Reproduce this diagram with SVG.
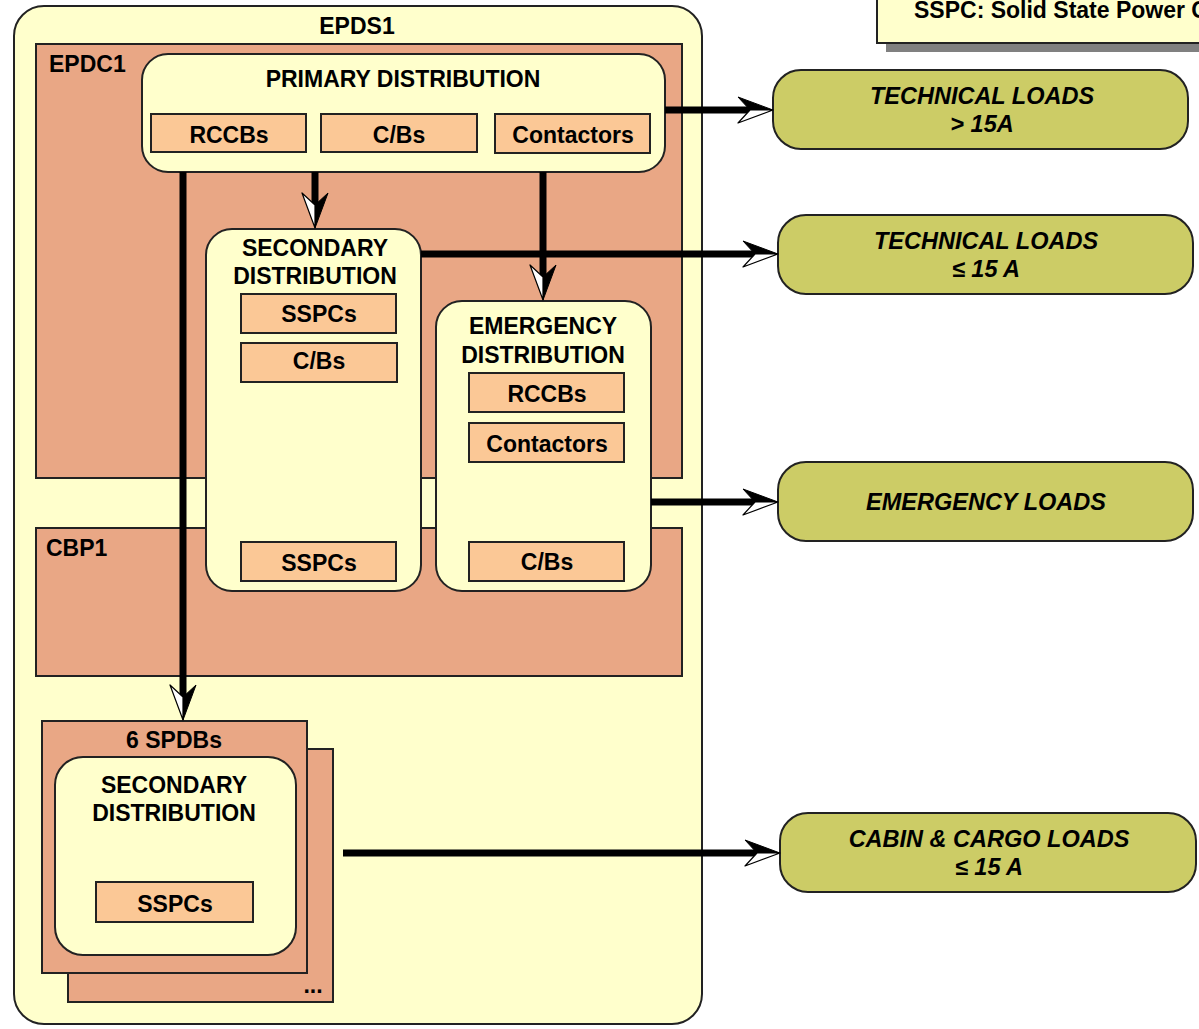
<svg xmlns="http://www.w3.org/2000/svg" xmlns:xlink="http://www.w3.org/1999/xlink" width="1199" height="1029" viewBox="0 0 1199 1029">
  <style>
    text { font-family: "Liberation Sans", Arial, sans-serif; font-weight: bold; fill: #000; }
    .t22 { font-size: 23px; text-anchor: middle; }
    .lbl { font-size: 23px; }
    .load { font-size: 23.5px; font-style: italic; text-anchor: middle; }
    .sys { fill: #FFFFCC; stroke: #222; stroke-width: 2; }
    .unit { fill: #E9A785; stroke: #222; stroke-width: 2; }
    .dist { fill: #FFFFCC; stroke: #222; stroke-width: 2; }
    .dev { fill: #FBC896; stroke: #222; stroke-width: 2; }
    .loadbox { fill: #CCCC66; stroke: #222; stroke-width: 2; }
    .wire { stroke: #000; stroke-width: 7; fill: none; }
  </style>
  <defs>
    <!-- half-black / half-white barbed arrowhead, tip at origin, pointing +x -->
    <g id="ahead">
      <path d="M0,0 L-35,-13 L-23,0 Z" fill="#000" stroke="#000" stroke-width="1" stroke-linejoin="round"/>
      <path d="M0,0 L-23,0 L-35,13 Z" fill="#fff" stroke="#000" stroke-width="1.2" stroke-linejoin="round"/>
    </g>
  </defs>

  <rect width="1199" height="1029" fill="#fff"/>

  <!-- legend -->
  <g id="legend">
    <rect x="886" y="-2" width="330" height="54" fill="#808080"/>
    <rect x="877" y="-10" width="330" height="53" fill="#FFFFCC" stroke="#222" stroke-width="2"/>
    <text class="lbl" x="914" y="18">SSPC: Solid State Power Controller</text>
  </g>

  <!-- power distribution system -->
  <g id="epds1">
    <rect class="sys" x="14" y="6" width="688" height="1018" rx="30"/>
    <text class="t22" x="357" y="34">EPDS1</text>
  </g>

  <g id="epdc1">
    <rect class="unit" x="36" y="44" width="646" height="434"/>
    <text class="lbl" x="49" y="72">EPDC1</text>
  </g>

  <g id="cbp1">
    <rect class="unit" x="36" y="528" width="646" height="148"/>
    <text class="lbl" x="46" y="556">CBP1</text>
  </g>

  <g id="primary">
    <rect class="dist" x="142" y="54" width="523" height="118" rx="26"/>
    <text class="t22" x="403" y="87">PRIMARY DISTRIBUTION</text>
    <rect class="dev" x="151" y="114" width="155" height="38"/>
    <text class="t22" x="229" y="143">RCCBs</text>
    <rect class="dev" x="321" y="114" width="156" height="38"/>
    <text class="t22" x="399" y="143">C/Bs</text>
    <rect class="dev" x="495" y="114" width="155" height="39"/>
    <text class="t22" x="573" y="143">Contactors</text>
  </g>

  <g id="secondary">
    <rect class="dist" x="206" y="229" width="215" height="362" rx="26"/>
    <text class="t22" x="315" y="256">SECONDARY</text>
    <text class="t22" x="315" y="284">DISTRIBUTION</text>
    <rect class="dev" x="241" y="294" width="155" height="39"/>
    <text class="t22" x="319" y="322">SSPCs</text>
    <rect class="dev" x="241" y="343" width="156" height="39"/>
    <text class="t22" x="319" y="369">C/Bs</text>
    <rect class="dev" x="241" y="542" width="155" height="39"/>
    <text class="t22" x="319" y="571">SSPCs</text>
  </g>

  <g id="emergency">
    <rect class="dist" x="436" y="301" width="215" height="290" rx="26"/>
    <text class="t22" x="543" y="334">EMERGENCY</text>
    <text class="t22" x="543" y="363">DISTRIBUTION</text>
    <rect class="dev" x="469" y="373" width="155" height="39"/>
    <text class="t22" x="547" y="402">RCCBs</text>
    <rect class="dev" x="469" y="423" width="155" height="39"/>
    <text class="t22" x="547" y="452">Contactors</text>
    <rect class="dev" x="469" y="542" width="155" height="39"/>
    <text class="t22" x="547" y="570">C/Bs</text>
  </g>

  <g id="spdbs">
    <rect class="unit" x="68" y="749" width="265" height="253"/>
    <text class="t22" x="313" y="993">...</text>
    <rect class="unit" x="42" y="721" width="265" height="252"/>
    <text class="t22" x="174" y="748">6 SPDBs</text>
    <rect class="dist" x="55" y="757" width="241" height="198" rx="28"/>
    <text class="t22" x="174" y="793">SECONDARY</text>
    <text class="t22" x="174" y="821">DISTRIBUTION</text>
    <rect class="dev" x="96" y="882" width="157" height="40"/>
    <text class="t22" x="175" y="912">SSPCs</text>
  </g>

  <!-- load groups -->
  <g id="load-tech-high">
    <rect class="loadbox" x="773" y="70" width="415" height="79" rx="28"/>
    <text class="load" x="982" y="104">TECHNICAL LOADS</text>
    <text class="load" x="982" y="132">&gt; 15A</text>
  </g>
  <g id="load-tech-low">
    <rect class="loadbox" x="778" y="215" width="415" height="79" rx="28"/>
    <text class="load" x="986" y="249">TECHNICAL LOADS</text>
    <text class="load" x="986" y="277">≤ 15 A</text>
  </g>
  <g id="load-emergency">
    <rect class="loadbox" x="778" y="462" width="415" height="79" rx="28"/>
    <text class="load" x="986" y="510">EMERGENCY LOADS</text>
  </g>
  <g id="load-cabin">
    <rect class="loadbox" x="780" y="813" width="416" height="79" rx="28"/>
    <text class="load" x="989" y="847">CABIN &amp; CARGO LOADS</text>
    <text class="load" x="989" y="875">≤ 15 A</text>
  </g>

  <!-- connectors -->
  <g id="connectors">
    <line class="wire" x1="665" y1="110" x2="752" y2="110"/>
    <use xlink:href="#ahead" transform="translate(773,110)"/>

    <line class="wire" x1="315" y1="172" x2="315" y2="206"/>
    <use xlink:href="#ahead" transform="translate(315,228) rotate(90)"/>

    <line class="wire" x1="543" y1="172" x2="543" y2="278"/>
    <use xlink:href="#ahead" transform="translate(543,300) rotate(90)"/>

    <line class="wire" x1="421" y1="254" x2="757" y2="254"/>
    <use xlink:href="#ahead" transform="translate(778,254)"/>

    <line class="wire" x1="651" y1="502" x2="757" y2="502"/>
    <use xlink:href="#ahead" transform="translate(778,502)"/>

    <line class="wire" x1="183" y1="172" x2="183" y2="698"/>
    <use xlink:href="#ahead" transform="translate(183,720) rotate(90)"/>

    <line class="wire" x1="343" y1="853" x2="759" y2="853"/>
    <use xlink:href="#ahead" transform="translate(780,853)"/>
  </g>
</svg>
